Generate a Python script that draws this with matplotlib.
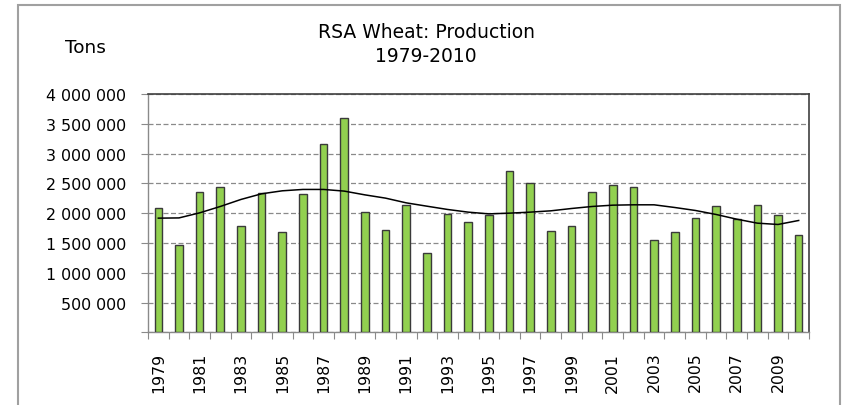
import matplotlib.pyplot as plt
import matplotlib.ticker as mticker
from matplotlib.patches import Rectangle
import numpy as np

plt.rcParams['font.family'] = ['DejaVu Sans']

years = list(range(1979, 2011))
production = [2084000, 1467000, 2347000, 2442000, 1776000, 2335000, 1686000, 2325000,
              3154000, 3602000, 2011000, 1709000, 2129000, 1328000, 1994000, 1849000,
              1966000, 2700000, 2509000, 1702000, 1776000, 2347000, 2465000, 2442000,
              1541000, 1680000, 1921000, 2117000, 1905000, 2140000, 1971000, 1641000]
# trend line
trend = [1916000, 1920000, 2005000, 2112000, 2230000, 2325000, 2375000, 2398000,
         2398000, 2370000, 2307000, 2252000, 2173000, 2117000, 2062000, 2017000,
         1988000, 2000000, 2017000, 2039000, 2078000, 2112000, 2134000, 2140000,
         2140000, 2095000, 2045000, 1978000, 1899000, 1832000, 1810000, 1877000]
y_ticks = [0, 500000, 1000000, 1500000, 2000000, 2500000, 3000000, 3500000, 4000000]

fig = plt.figure(figsize=(8.43, 4.06), dpi=100)
ax = fig.add_axes([148 / 843, 1 - 333.3 / 406, 661 / 843, 238.3 / 406])

x = np.arange(len(years))
ax.bar(x, production, width=0.37, color='#92D050', edgecolor='#3a3a3a', linewidth=1.0, zorder=3)
ax.plot(x, trend, color='black', linewidth=1.1, zorder=4)

ax.set_xlim(-0.5, len(years) - 0.5)
ax.set_ylim(0, 4000000)
ax.set_yticks(y_ticks)
ax.yaxis.set_major_formatter(mticker.FuncFormatter(
    lambda v, p: '' if v == 0 else f'{int(v):,}'.replace(',', ' ')))
ax.grid(axis='y', color='#8a8a8a', linestyle=(0, (4, 2)), linewidth=0.9, zorder=1)

# ticks at category boundaries, labels every other year
ax.set_xticks(np.arange(-0.5, len(years)), minor=False)
ax.set_xticklabels([])
ax.set_xticks(x[::2], minor=True)
ax.set_xticklabels([str(y) for y in years[::2]], minor=True, rotation=90, fontsize=11.3)
ax.tick_params(axis='x', which='minor', length=0, pad=14)
ax.tick_params(axis='x', which='major', length=5, direction='out', color='#8a8a8a')
ax.tick_params(axis='y', length=5, direction='out', color='#8a8a8a', labelsize=11.4, pad=11)

for s in ['top', 'right']:
    ax.spines[s].set_color('#404040')
    ax.spines[s].set_linewidth(1.2)
for s in ['left', 'bottom']:
    ax.spines[s].set_color('#8a8a8a')
    ax.spines[s].set_linewidth(1.0)

fig.text(426 / 843, 1 - 33 / 406, 'RSA Wheat: Production', ha='center', va='center', fontsize=13.5)
fig.text(426 / 843, 1 - 57 / 406, '1979-2010', ha='center', va='center', fontsize=13.5)
fig.text(85 / 843, 1 - 48 / 406, 'Tons', ha='center', va='center', fontsize=13.3)

fig.patches.append(Rectangle((18 / 843, -0.05), (840 - 18) / 843, 1.05 - 5.5 / 406,
                             transform=fig.transFigure, fill=False,
                             edgecolor='#a0a0a0', linewidth=1.5))

fig.savefig('out.png', dpi=100)
